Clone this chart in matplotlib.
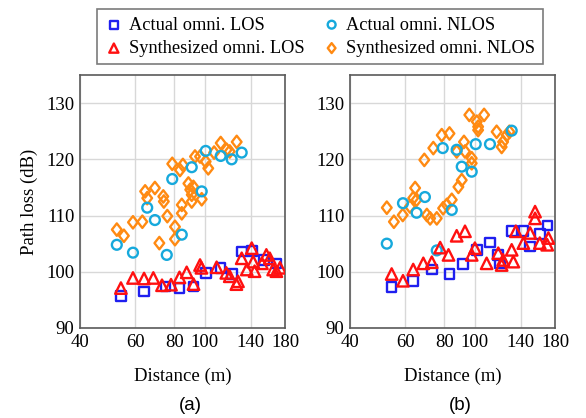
import numpy as np
import matplotlib.pyplot as plt
from matplotlib.path import Path
from matplotlib.ticker import NullLocator, FixedLocator, FixedFormatter

plt.rcParams['font.family'] = ['Liberation Serif', 'DejaVu Serif']

# ---- (a) measured vs synthesized path loss ----
a_los_d = [54, 64, 75, 83, 92, 101, 112, 122, 131, 141, 154, 169]
a_los_pl = [95.7, 96.5, 97.4, 97.1, 97.4, 99.8, 100.7, 99.6, 103.6, 103.7, 102.1, 101.5]

a_los_syn_d = [54, 59, 64, 68.5, 73, 78, 83, 87.5, 92, 96.5, 97.5, 109, 117, 120,
               126, 127.5, 131, 141, 136, 144, 142.5, 152, 157, 161, 165, 169, 173.5]
a_los_syn_pl = [97.1, 98.9, 98.8, 98.9, 97.6, 97.7, 99.0, 99.9, 97.8, 101.2, 100.7, 100.8, 99.8, 99.2,
                97.8, 98.3, 102.4, 104.2, 100.4, 100.1, 101.8, 101.5, 103.0, 102.4, 100.4, 100.1, 100.7]

a_nlos_d = [52.4, 59, 65.5, 69.3, 75.6, 78.7, 84.4, 90.8, 97.7, 100.6, 112.3, 121.7, 131]
a_nlos_pl = [104.8, 103.4, 111.4, 109.2, 103.0, 116.5, 106.6, 118.6, 114.3, 121.5, 120.6, 120.0, 121.2]

a_nlos_syn_d = [52.4, 55.2, 59, 63.2, 64.5, 65.5, 69.3, 73.7, 74, 75.9, 71.6, 78.7, 80.3, 80.3,
                83.3, 84.4, 84.4, 85.1, 88.6, 89.8, 90.8, 91.9, 90.8, 93, 97.7, 96.5, 100.6,
                102.5, 107, 112.3, 117.3, 120, 126.3]
a_nlos_syn_pl = [107.5, 106.4, 108.8, 108.9, 114.3, 113.1, 114.9, 113.4, 112.5, 109.9, 105.1, 119.2,
                 108.0, 105.8, 118.1, 111.9, 110.4, 119.0, 115.7, 114.6, 113.7, 115.1, 112.5, 120.5,
                 112.9, 120.5, 119.6, 118.4, 121.2, 122.9, 121.7, 121.4, 123.1]

# ---- (b) ----
b_los_d = [54.3, 63.6, 72.9, 82.9, 91.8, 101.4, 111.7, 118.7, 120.3, 131, 142.7, 150, 161, 170.5]
b_los_pl = [97.3, 98.4, 100.4, 99.6, 101.4, 103.9, 105.2, 103.0, 101.5, 107.2, 107.2, 104.5, 106.7, 108.2]

b_los_syn_d = [54.3, 59, 63.6, 68.5, 72.9, 77.5, 82.4, 87.5, 93, 97.7, 100, 109, 118.7, 121.7,
               123, 131, 132.6, 135, 150, 142.7, 155.5, 155.5, 161, 170, 171.5]
b_los_syn_pl = [99.6, 98.4, 100.4, 101.5, 101.7, 104.3, 103.0, 106.4, 107.2, 103.0, 104.2, 101.5,
                103.3, 101.2, 102.1, 103.9, 101.8, 107.2, 106.9, 105.1, 110.7, 109.5, 105.1, 104.8, 106.0]

b_nlos_d = [52.4, 59, 65.2, 69.3, 75.6, 79, 84.4, 87.5, 90.8, 97.7, 100.6, 111.7, 131]
b_nlos_pl = [105.0, 112.2, 110.5, 113.3, 103.8, 122.0, 111.0, 121.7, 118.7, 117.8, 122.7, 122.7, 125.1]

b_nlos_syn_d = [52.4, 55.2, 58.9, 62.1, 63.6, 64.5, 65.2, 69, 70.3, 72, 73.7, 75.6, 78.4, 79.2,
                81.4, 83, 84.4, 87.5, 88.6, 90.8, 92.3, 93, 97.7, 97.7, 96, 101.4, 102.4, 102.4,
                107, 117.3, 121.7, 123, 126.3, 128.8]
b_nlos_syn_pl = [111.4, 108.9, 110.1, 111.6, 113.1, 114.9, 112.8, 119.9, 110.1, 109.5, 122.0, 109.5,
                 124.3, 111.3, 111.9, 124.6, 112.8, 121.4, 115.1, 116.3, 123.1, 121.4, 120.2, 119.3,
                 127.9, 126.7, 125.2, 125.8, 127.9, 124.9, 122.2, 123.1, 124.3, 124.9]

xticks = [40, 60, 80, 100, 140, 180]
yticks = [90, 100, 110, 120, 130]

c_los = '#1f1fef'
c_los_syn = '#ff1010'
c_nlos = '#16a9dc'
c_nlos_syn = '#ff8a12'

# slightly elongated diamond
diamond = Path([(0, 1), (0.78, 0), (0, -1), (-0.78, 0), (0, 1)],
               [Path.MOVETO, Path.LINETO, Path.LINETO, Path.LINETO, Path.CLOSEPOLY])

fig = plt.figure(figsize=(5.86, 4.18), dpi=100)
ax_a = fig.add_axes([80 / 586, 1 - 328 / 418, 205 / 586, 253 / 418])
ax_b = fig.add_axes([350 / 586, 1 - 328 / 418, 205 / 586, 253 / 418])

panels = [
    (ax_a, a_los_d, a_los_pl, a_los_syn_d, a_los_syn_pl, a_nlos_d, a_nlos_pl, a_nlos_syn_d, a_nlos_syn_pl),
    (ax_b, b_los_d, b_los_pl, b_los_syn_d, b_los_syn_pl, b_nlos_d, b_nlos_pl, b_nlos_syn_d, b_nlos_syn_pl),
]

handles = []
for ax, ld, lp, lsd, lsp, nd, npl, nsd, nsp in panels:
    kw = dict(facecolor='none', linewidths=1.7, zorder=3)
    h_nlos_syn = ax.scatter(nsd, nsp, marker=diamond, s=80, edgecolors=c_nlos_syn, **kw)
    h_nlos = ax.scatter(nd, npl, marker='o', s=50, edgecolors=c_nlos, **kw)
    h_los = ax.scatter(ld, lp, marker='s', s=48, edgecolors=c_los, **kw)
    h_los_syn = ax.scatter(lsd, lsp, marker='^', s=68, edgecolors=c_los_syn, **kw)
    handles = [h_los, h_nlos, h_los_syn, h_nlos_syn]

    ax.set_xscale('log')
    ax.set_xlim(40, 180)
    ax.set_ylim(90, 135)
    ax.xaxis.set_major_locator(FixedLocator(xticks))
    ax.xaxis.set_major_formatter(FixedFormatter([str(t) for t in xticks]))
    ax.xaxis.set_minor_locator(NullLocator())
    ax.set_yticks(yticks)
    ax.grid(True, color='#d8d8d8', linewidth=1.0)
    ax.set_axisbelow(True)
    ax.tick_params(labelsize=13.5, length=0, pad=4)
    for sp in ax.spines.values():
        sp.set_color('#5a5a5a')
        sp.set_linewidth(1.2)
    ax.set_xlabel('Distance (m)', fontsize=13.5, labelpad=12)

ax_a.set_ylabel('Path loss (dB)', fontsize=13.5, labelpad=6)

labels = ['Actual omni. LOS', 'Actual omni. NLOS',
          'Synthesized omni. LOS', 'Synthesized omni. NLOS']
order = [0, 2, 1, 3]
leg = fig.legend([handles[i] for i in order], [labels[i] for i in order],
                 ncol=2, loc='upper center', bbox_to_anchor=(320 / 586, 1.0),
                 fontsize=13.2, frameon=True, fancybox=False, handletextpad=0.3,
                 columnspacing=1.0, labelspacing=0.35, borderpad=0.4,
                 markerscale=0.8, handlelength=1.0)
leg.get_frame().set_edgecolor('#5a5a5a')
leg.get_frame().set_linewidth(1.2)

fig.text(190 / 586, 1 - 405 / 418, '(a)', ha='center', va='center',
         fontsize=13.5, family='Liberation Sans')
fig.text(460 / 586, 1 - 405 / 418, '(b)', ha='center', va='center',
         fontsize=13.5, family='Liberation Sans')

fig.savefig('out.png', dpi=100)
